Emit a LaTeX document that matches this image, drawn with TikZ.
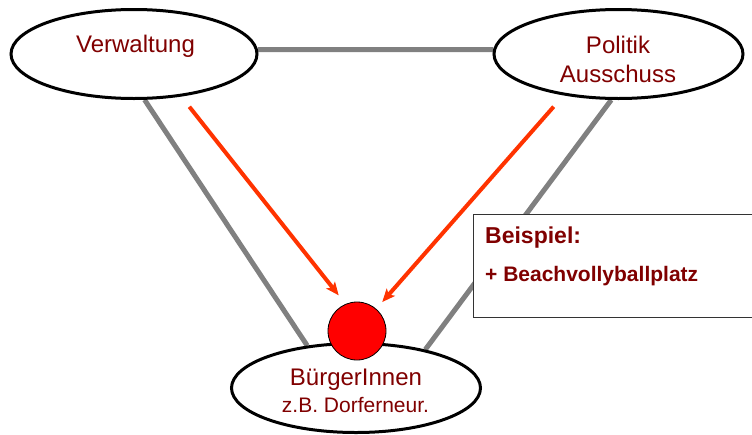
\documentclass[tikz,border=0pt]{standalone}
\usepackage{fontspec}
\setmainfont{Liberation Sans}
\usetikzlibrary{shapes.geometric,arrows.meta,positioning,calc,backgrounds}
\definecolor{txtred}{RGB}{128,0,0}
\definecolor{arrred}{RGB}{255,51,0}
\definecolor{linegray}{RGB}{128,128,128}
\definecolor{boxgray}{RGB}{51,51,51}

\begin{document}
	\begin{tikzpicture}[x=1pt,y=-1pt,
		blob/.style={ellipse,draw=black,line width=3pt,fill=white,minimum width=246pt,minimum height=89pt,inner sep=0pt},
		lbl/.style={text=txtred,font=\fontsize{24}{28}\selectfont,inner sep=0pt,anchor=base},
		tie/.style={draw=linegray,line width=5pt},
		push/.style={draw=arrred,line width=4pt,-{Stealth[length=13pt,width=11pt,inset=3pt]}}]
		\useasboundingbox (0,0) rectangle (752,434);
		\node[blob] (verw) at (134,54) {};
		\node[blob,minimum width=249pt] (pol) at (618.5,54) {};
		\node[blob,minimum width=249pt] (buerger) at (356,388) {};
		\node[circle,fill=red,draw=black,line width=0.8pt,minimum size=58pt,inner sep=0pt] (dot) at (357,331) {};
		%
		\node[lbl] (verwtxt) at (135.5,52) {Verwaltung};
		\node[lbl] (poltxt) at (618,53) {Politik};
		\node[lbl] (ausstxt) at (618,82) {Ausschuss};
		\node[lbl] (buergtxt) at (356,385) {BürgerInnen};
		\node[lbl,font=\fontsize{21}{25}\selectfont] (zbtxt) at (355.5,412) {z.B. Dorferneur.};
		%
		\begin{scope}[on background layer]
			\draw[tie] (verw.2) -- (pol.178);
			\draw[tie] (verw.283) -- (buerger.139);
			\draw[tie] (pol.261) -- (buerger.29);
		\end{scope}
		\draw[push,shorten <=13pt,shorten >=11pt] (verw.318) -- (dot.113);
		\draw[push,shorten <=15pt,shorten >=9pt] (pol.217) -- (dot.49);
		%
		\node[draw=boxgray,line width=1.3pt,fill=white,minimum width=285pt,minimum height=103pt,anchor=north west,inner sep=0pt] (bsp) at (473,214) {};
		\node[lbl,anchor=base west,font=\bfseries\fontsize{23}{27}\selectfont] (bsptitle) at ($(bsp.north west)+(12,29)$) {Beispiel:};
		\node[lbl,anchor=base west,font=\bfseries\fontsize{21}{25}\selectfont] (bspitem) at ($(bsp.north west)+(12,67)$) {+ Beachvollyballplatz};
	\end{tikzpicture}
\end{document}
